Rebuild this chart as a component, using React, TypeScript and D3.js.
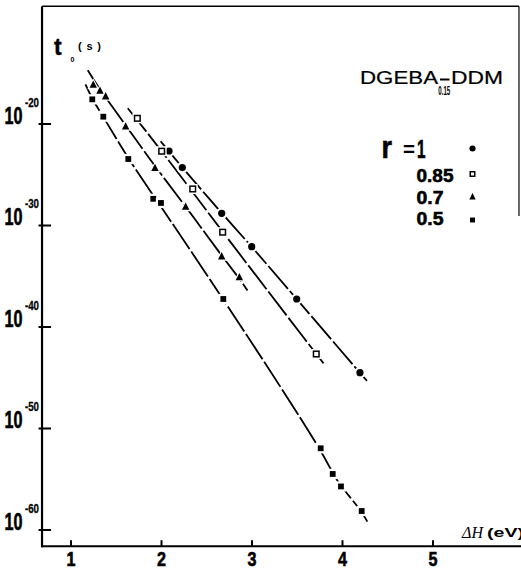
import React from "react";
import * as d3 from "d3";

// ---------- data (ΔH in eV, log10 of t0 in s) ----------
const xTicks = [1, 2, 3, 4, 5];
const yTickExps = [-20, -30, -40, -50, -60];

const seriesR1: [number, number][] = [[2.083, -22.66], [2.23, -24.29], [2.665, -28.8], [2.997, -32.09], [3.494, -37.24], [4.193, -44.5]];
const seriesR085: [number, number][] = [[1.733, -19.44], [2.002, -22.68], [2.345, -26.4], [2.676, -30.66], [3.71, -42.66]];
const seriesR07: [number, number][] = [[1.246, -16.16], [1.32, -16.75], [1.383, -17.31], [1.604, -20.27], [1.928, -24.36], [2.267, -28.18], [2.665, -33.07], [2.86, -35.12]];
const seriesR05: [number, number][] = [[1.235, -17.57], [1.357, -19.28], [1.633, -23.45], [1.909, -27.37], [1.994, -27.78], [2.683, -37.24], [3.759, -51.95], [3.892, -54.48], [3.983, -55.71], [4.212, -58.13]];

// hand-drawn fit curves
const curveR1: [number, number][] = [[1.99, -21.7], [2.23, -24.3], [2.665, -28.8], [3.0, -32.1], [3.49, -37.2], [4.19, -44.5], [4.27, -45.3]];
const curveR085: [number, number][] = [[1.627, -18.45], [2.0, -22.6], [2.676, -30.66], [3.71, -42.66], [3.79, -43.58]];
const curveR07: [number, number][] = [[1.185, -14.7], [1.3, -16.4], [1.604, -20.1], [1.928, -24.2], [2.267, -28.1], [2.665, -33.0], [2.86, -35.2], [2.95, -36.4]];
const curveR05: [number, number][] = [[1.16, -16.1], [1.235, -17.57], [1.357, -19.28], [1.633, -23.45], [1.95, -27.55], [2.683, -37.24], [3.759, -51.95], [3.892, -54.48], [3.983, -55.71], [4.212, -58.13], [4.274, -59.18]];

const legendLabels = ["1", "0.85", "0.7", "0.5"];
const frameX: [number, number] = [0.68, 5.95];
const frameExp: [number, number] = [-8.4, -61.6];

const W = 521;
const H = 568;
const BOLD = "'Liberation Sans', Arial, sans-serif";
const SANS = "'Liberation Sans', Arial, sans-serif";

const x = d3.scaleLinear().domain([1, 5]).range([71, 433]);
const y = d3.scaleLog().domain([1e-20, 1e-60]).range([124, 530]);
const py = (e: number) => y(Math.pow(10, e));

const lineGen = d3
  .line<[number, number]>()
  .x((d) => x(d[0]))
  .y((d) => py(d[1]))
  .curve(d3.curveBasis);

type Kind = "circle" | "open" | "tri" | "square";

function Marker({ cx, cy, kind, s = 1, halo = true }: { cx: number; cy: number; kind: Kind; s?: number; halo?: boolean }) {
  const h = halo ? 2.2 : 0;
  if (kind === "circle") {
    const r = 3.6 * s;
    return (
      <g>
        {halo && <circle cx={cx} cy={cy} r={r + h} fill="#fff" />}
        <circle cx={cx} cy={cy} r={r} fill="#000" />
      </g>
    );
  }
  if (kind === "open" || kind === "square") {
    const a = (kind === "open" ? 5.6 : 5.8) * s;
    return (
      <g>
        {halo && <rect x={cx - a / 2 - h} y={cy - a / 2 - h} width={a + 2 * h} height={a + 2 * h} fill="#fff" />}
        <rect
          x={cx - a / 2}
          y={cy - a / 2}
          width={a}
          height={a}
          fill={kind === "open" ? "#fff" : "#000"}
          stroke="#000"
          strokeWidth={kind === "open" ? 1.5 : 0}
        />
      </g>
    );
  }
  const a = 7.4 * s;
  const pts = (k: number) =>
    `${cx},${cy - a * 0.62 - k} ${cx + a / 2 + k},${cy + a * 0.38 + k * 0.6} ${cx - a / 2 - k},${cy + a * 0.38 + k * 0.6}`;
  return (
    <g>
      {halo && <polygon points={pts(h)} fill="#fff" />}
      <polygon points={pts(0)} fill="#000" />
    </g>
  );
}

const groups: { pts: [number, number][]; curve: [number, number][]; kind: Kind }[] = [
  { pts: seriesR1, curve: curveR1, kind: "circle" },
  { pts: seriesR085, curve: curveR085, kind: "open" },
  { pts: seriesR07, curve: curveR07, kind: "tri" },
  { pts: seriesR05, curve: curveR05, kind: "square" },
];

const heavy = { stroke: "#000", strokeWidth: 0.6 };

export default function App() {
  const left = x(frameX[0]);
  const right = x(frameX[1]);
  const top = py(frameExp[0]);
  const bottom = py(frameExp[1]);

  const legendY = [157.5, 181.5, 203.5, 225];
  const legendKinds: Kind[] = ["circle", "open", "tri", "square"];
  const legendMarkerY = [148.5, 174, 197, 220];

  return (
    <svg
      width={W}
      height={H}
      viewBox={`0 0 ${W} ${H}`}
      style={{ position: "fixed", left: 0, top: 0, background: "#fff" }}
    >
      <rect x={0} y={0} width={W} height={H} fill="#fff" />

      {/* frame */}
      <line x1={left} y1={top} x2={left} y2={bottom + 1} stroke="#000" strokeWidth={2.2} />
      <line x1={left - 1} y1={bottom} x2={W} y2={bottom} stroke="#000" strokeWidth={2.2} />
      <line x1={left} y1={top} x2={right} y2={top} stroke="#000" strokeWidth={1.6} />
      <line x1={right} y1={top} x2={right} y2={216} stroke="#000" strokeWidth={1.2} />

      {/* y ticks and labels */}
      {yTickExps.map((e) => {
        const ty = py(e);
        return (
          <g key={e}>
            <line x1={left - 3.5} x2={left + 9} y1={ty} y2={ty} stroke="#000" strokeWidth={2} />
            <text x={4.5} y={ty - 0.5} fontFamily={BOLD} fontWeight="bold" fontSize={23} textLength={18} lengthAdjust="spacingAndGlyphs" {...heavy}>
              10
            </text>
            <text x={25} y={ty - 17.5} fontFamily={BOLD} fontWeight="bold" fontSize={12.5} textLength={14} lengthAdjust="spacingAndGlyphs" {...heavy} strokeWidth={0.3}>
              {"-" + Math.abs(e)}
            </text>
          </g>
        );
      })}

      {/* x ticks and labels */}
      {xTicks.map((t) => (
        <g key={t}>
          <line x1={x(t)} x2={x(t)} y1={bottom} y2={bottom - 6} stroke="#000" strokeWidth={2} />
          <text x={x(t)} y={565.5} textAnchor="middle" fontFamily={BOLD} fontWeight="bold" fontSize={20.5} textLength={9} lengthAdjust="spacingAndGlyphs" {...heavy}>
            {t}
          </text>
        </g>
      ))}

      {/* curves */}
      {groups.map((g, i) => (
        <path
          key={"c" + i}
          d={lineGen(g.curve) || ""}
          fill="none"
          stroke="#000"
          strokeWidth={1.8}
          strokeDasharray="30 3"
        />
      ))}

      {/* markers */}
      {groups.map((g, i) => (
        <g key={"m" + i}>
          {g.pts.map((d, j) => (
            <Marker key={j} cx={x(d[0])} cy={py(d[1])} kind={g.kind} />
          ))}
        </g>
      ))}

      {/* y axis title */}
      <text x={54} y={55} fontFamily={SANS} fontWeight="bold" fontSize={23} {...heavy} strokeWidth={0.4}>
        t
      </text>
      <text x={70.5} y={62} fontFamily={SANS} fontWeight="bold" fontSize={7}>
        0
      </text>
      <text x={78} y={50} fontFamily={SANS} fontWeight="bold" fontSize={11} textLength={23} lengthAdjust="spacing">
        (s)
      </text>

      {/* title */}
      <text x={360} y={83.5} fontFamily={SANS} fontSize={18} textLength={78} lengthAdjust="spacingAndGlyphs" stroke="#000" strokeWidth={0.2}>
        DGEBA
      </text>
      <line x1={440} x2={449.5} y1={79.5} y2={79.5} stroke="#000" strokeWidth={2} />
      <text x={438.3} y={95} fontFamily={BOLD} fontWeight="bold" fontSize={13} textLength={12} lengthAdjust="spacingAndGlyphs">
        0.15
      </text>
      <text x={451} y={83.5} fontFamily={SANS} fontSize={18} textLength={52} lengthAdjust="spacingAndGlyphs" stroke="#000" strokeWidth={0.2}>
        DDM
      </text>

      {/* legend */}
      <text x={381.5} y={158} fontFamily={BOLD} fontWeight="bold" fontSize={32} textLength={10.5} lengthAdjust="spacingAndGlyphs" {...heavy}>
        r
      </text>
      <text x={403} y={156} fontFamily={BOLD} fontWeight="bold" fontSize={20} textLength={12} lengthAdjust="spacingAndGlyphs">
        =
      </text>
      {legendLabels.map((l, i) => (
        <g key={l}>
          <text
            x={i === 0 ? 417 : 416.5}
            y={legendY[i]}
            fontFamily={BOLD}
            fontWeight="bold"
            fontSize={i === 0 ? 25 : 19}
            textLength={i === 0 ? 8.5 : l.length === 4 ? 37 : 27}
            lengthAdjust="spacingAndGlyphs"
            {...heavy}
          >
            {l}
          </text>
          <Marker cx={472.5} cy={legendMarkerY[i]} kind={legendKinds[i]} s={i === 1 ? 0.8 : 0.85} halo={false} />
        </g>
      ))}

      {/* x axis title */}
      <text x={462} y={538} fontFamily="'Liberation Serif', 'Times New Roman', serif" fontStyle="italic" fontSize={16}>
        ΔH
      </text>
      <text x={487} y={537} fontFamily={SANS} fontWeight="bold" fontSize={12} textLength={37} lengthAdjust="spacingAndGlyphs">
        (eV)
      </text>
    </svg>
  );
}
